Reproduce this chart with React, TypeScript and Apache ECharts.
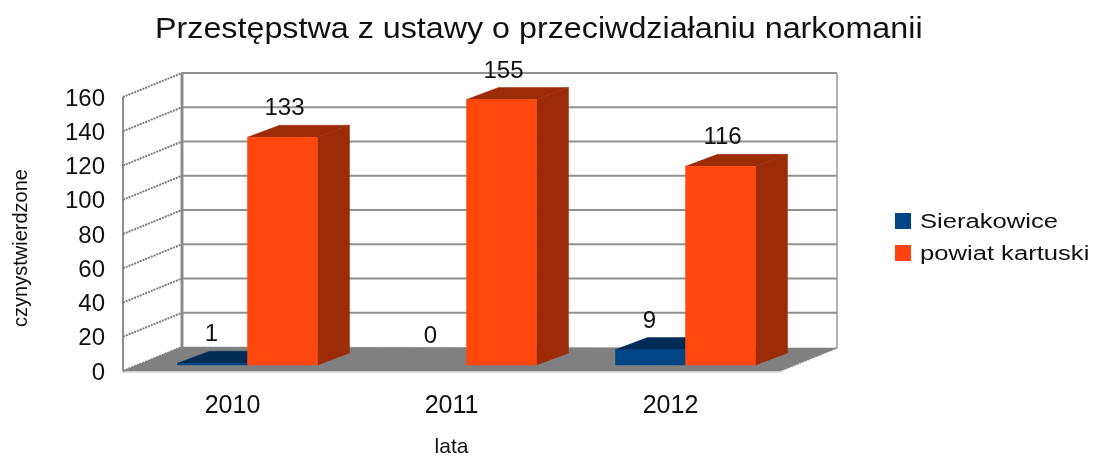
import React, { useEffect, useRef } from "react";
import * as echarts from "echarts";

const categories = ["2010", "2011", "2012"];
const sierakowice = [1, 0, 9];
const powiatKartuski = [133, 155, 116];
const yTicks = [0, 20, 40, 60, 80, 100, 120, 140, 160];
const titleText = "Przestępstwa z ustawy o przeciwdziałaniu narkomanii";
const seriesNames = ["Sierakowice", "powiat kartuski"];
const seriesColors = ["#004586", "#ff420e"];

const FONT = "'Liberation Sans', Arial, sans-serif";
const INK = "#111";
const WALL_DX = 59;
const WALL_DY = -24;
const BAR_SHIFT_X = 15;
const BAR_SHIFT_Y = -6;
const BAR_W = 70;
const BAR_DX = 32;
const BAR_DY = -12;

const poly = (points: number[][], fill: string) => ({
  type: "polygon",
  shape: { points },
  style: { fill, stroke: fill, lineWidth: 0.5 },
});
const seg = (a: number[], b: number[], stroke: string, lineWidth: number, lineDash?: number[]) => ({
  type: "line",
  shape: { x1: a[0], y1: a[1], x2: b[0], y2: b[1] },
  style: { stroke, lineWidth, lineDash },
});

function barRenderer(slot: number, front: string, top: string, side: string, labelDx: number) {
  return (_p: any, api: any) => {
    const cat = api.value(0);
    const val = api.value(1);
    const p = api.coord([cat, val]);
    const b = api.coord([cat, 0]);
    const x0 = p[0] + BAR_SHIFT_X + slot * BAR_W;
    const x1 = x0 + BAR_W;
    const yT = p[1] + BAR_SHIFT_Y;
    const yB = b[1] + BAR_SHIFT_Y;
    const label = {
      type: "text",
      x: (x0 + x1) / 2 + labelDx,
      y: yT + BAR_DY - 18.5,
      style: {
        text: String(val),
        font: `24px ${FONT}`,
        fill: INK,
        textAlign: "center",
        textVerticalAlign: "middle",
      },
    };
    const shapes =
      val > 0
        ? [
            poly([[x1, yT], [x1 + BAR_DX, yT + BAR_DY], [x1 + BAR_DX, yB + BAR_DY], [x1, yB]], side),
            poly([[x0, yT], [x1, yT], [x1 + BAR_DX, yT + BAR_DY], [x0 + BAR_DX, yT + BAR_DY]], top),
            poly([[x0, yT], [x1, yT], [x1, yB], [x0, yB]], front),
          ]
        : [];
    return { type: "group", children: [...shapes, label] };
  };
}

function wallRenderer(params: any, api: any) {
  const cs = params.coordSys;
  const L = cs.x;
  const R = cs.x + cs.width;
  const yAt = (v: number) => api.coord([0, v])[1];
  const y0 = yAt(0);
  const yMax = yAt(yTicks[yTicks.length - 1]);
  const children: any[] = [
    poly([[L, y0], [R, y0], [R + WALL_DX - 2, y0 + WALL_DY + 1], [L + WALL_DX, y0 + WALL_DY]], "#808080"),
    seg([L, y0 + 1], [R, y0 + 1], "#c4c4c4", 1),
    seg([L, yMax], [L, y0], "#8f8f8f", 2),
    seg([R + WALL_DX - 2, yMax + WALL_DY], [R + WALL_DX - 2, y0 + WALL_DY + 1], "#9a9a9a", 1.5),
    seg([L + WALL_DX, yMax + WALL_DY], [L + WALL_DX, y0 + WALL_DY], "#8c8c8c", 3),
  ];
  yTicks.forEach((t) => {
    const y = yAt(t);
    if (t > 0) {
      children.push(seg([L + WALL_DX, y + WALL_DY], [R + WALL_DX - 2, y + WALL_DY], "#909090", 2));
    }
    children.push(seg([L, y], [L + WALL_DX, y + WALL_DY], "#7c7c7c", 2, [2, 1]));
  });
  children.push(seg([R, y0], [R + WALL_DX - 2, y0 + WALL_DY + 1], "#8a8a8a", 1.5, [2, 1]));
  return { type: "group", children };
}

const legendGraphic = seriesNames.flatMap((name, i) => [
  {
    type: "rect",
    shape: { x: 895, y: 213 + i * 32, width: 16, height: 16 },
    style: { fill: seriesColors[i] },
  },
  {
    type: "text",
    x: 920,
    y: 221 + i * 32,
    scaleX: 1.22,
    style: { text: name, font: `21px ${FONT}`, fill: INK, textVerticalAlign: "middle" },
  },
]);

export default function App() {
  const ref = useRef<HTMLDivElement>(null);
  useEffect(() => {
    const chart = echarts.init(ref.current!, undefined, { renderer: "svg" });
    chart.setOption({
      animation: false,
      backgroundColor: "#fff",
      graphic: [
        {
          type: "text",
          x: 155,
          y: 28,
          scaleX: 1.113,
          style: { text: titleText, font: `29px ${FONT}`, fill: INK, textVerticalAlign: "middle" },
        },
        ...legendGraphic,
      ],
      grid: { left: 123, top: 97, width: 657, height: 274, outerBoundsMode: "none" },
      xAxis: {
        type: "category",
        data: categories,
        name: "lata",
        nameLocation: "middle",
        nameGap: 64,
        nameTextStyle: { fontFamily: FONT, fontSize: 21, color: INK },
        axisLine: { show: false },
        axisTick: { show: false },
        axisLabel: { fontFamily: FONT, fontSize: 25, color: INK, margin: 20 },
      },
      yAxis: {
        type: "value",
        min: 0,
        max: 160,
        interval: 20,
        name: "czynystwierdzone",
        nameLocation: "middle",
        nameGap: 93,
        nameTextStyle: { fontFamily: FONT, fontSize: 20, color: INK, padding: [0, 28, 0, 0] },
        splitLine: { show: false },
        axisLine: { show: false },
        axisTick: { show: false },
        axisLabel: { fontFamily: FONT, fontSize: 24, color: INK, margin: 18 },
      },
      series: [
        {
          type: "custom",
          name: "wall",
          silent: true,
          renderItem: wallRenderer,
          encode: { x: 0, y: 1 },
          data: [[0, 0]],
          z: 1,
        },
        {
          type: "custom",
          name: seriesNames[0],
          itemStyle: { color: seriesColors[0] },
          renderItem: barRenderer(-1, "#004586", "#002b54", "#002b54", -1),
          encode: { x: 0, y: 1 },
          data: sierakowice.map((v, i) => [i, v]),
          z: 2,
        },
        {
          type: "custom",
          name: seriesNames[1],
          itemStyle: { color: seriesColors[1] },
          renderItem: barRenderer(0, "#ff470e", "#9c2b07", "#9c2b07", 2),
          encode: { x: 0, y: 1 },
          data: powiatKartuski.map((v, i) => [i, v]),
          z: 3,
        },
      ],
    });
    return () => chart.dispose();
  }, []);
  return (
    <div
      ref={ref}
      style={{ width: 1096, height: 457, position: "absolute", left: 0, top: 0, filter: "blur(0.35px)" }}
    />
  );
}
